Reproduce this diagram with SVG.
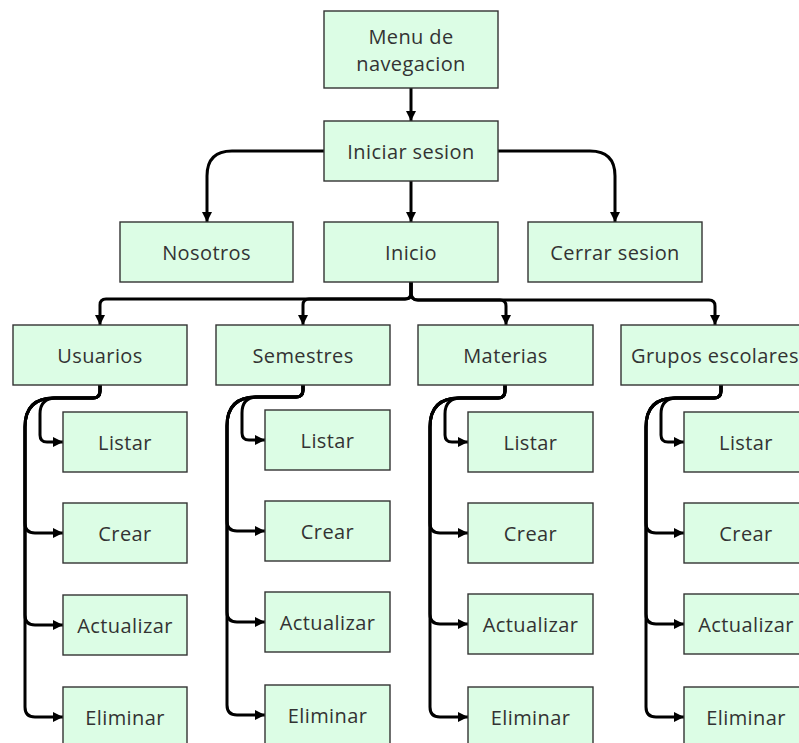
<svg xmlns="http://www.w3.org/2000/svg" width="799" height="743" viewBox="0 0 799 743">
  <style>
    .box { fill: #dcfde5; stroke: #333333; stroke-width: 1.4; }
    .lbl { font-family: "Open Sans", "Noto Sans", sans-serif; font-size: 20px; letter-spacing: 0.4px; fill: #333333; text-anchor: middle; dominant-baseline: central; }
    .edge { fill: none; stroke: #000000; stroke-width: 3; marker-end: url(#arrow); }
  </style>
  <defs>
    <marker id="arrow" viewBox="0 0 10 10" refX="10" refY="5" markerWidth="10" markerHeight="10" markerUnits="userSpaceOnUse" orient="auto">
      <path d="M0,0 L10,5 L0,10 z" fill="#000000"/>
    </marker>
  </defs>
  <rect width="799" height="743" fill="#ffffff"/>

  <!-- connectors -->
  <g id="connectors">
    <!-- top levels -->
    <path class="edge" d="M411,88 V121"/>
    <path class="edge" d="M324,151 H232 Q207,151 207,176 V222"/>
    <path class="edge" d="M411,181 V222"/>
    <path class="edge" d="M498,151 H590 Q615,151 615,176 V222"/>
    <!-- Inicio to sections -->
    <path class="edge" d="M411,282 V293 Q411,299 405,299 H106 Q100,299 100,305 V325"/>
    <path class="edge" d="M411,282 V293 Q411,299 405,299 H309 Q303,299 303,305 V325"/>
    <path class="edge" d="M411,282 V293 Q411,300 418,300 H500 Q506,300 506,306 V325"/>
    <path class="edge" d="M411,282 V293 Q411,300 418,300 H709 Q715,300 715,306 V325"/>

    <!-- Usuarios -->
    <path class="edge" d="M100,385 V391 Q100,398 93,398 H56 Q40,398 40,414 V435 Q40,442 47,442 H63"/>
    <path class="edge" d="M100,385 V391 Q100,398 93,398 H54 Q25,398 25,427 V523 Q25,533 35,533 H63"/>
    <path class="edge" d="M100,385 V391 Q100,398 93,398 H54 Q25,398 25,427 V615 Q25,625 35,625 H63"/>
    <path class="edge" d="M100,385 V391 Q100,398 93,398 H54 Q25,398 25,427 V707 Q25,717 35,717 H63"/>

    <!-- Semestres -->
    <path class="edge" d="M303,385 V390 Q303,397 296,397 H258 Q242,397 242,413 V433 Q242,440 249,440 H265"/>
    <path class="edge" d="M303,385 V390 Q303,397 296,397 H256 Q227,397 227,426 V521 Q227,531 237,531 H265"/>
    <path class="edge" d="M303,385 V390 Q303,397 296,397 H256 Q227,397 227,426 V612 Q227,622 237,622 H265"/>
    <path class="edge" d="M303,385 V390 Q303,397 296,397 H256 Q227,397 227,426 V705 Q227,715 237,715 H265"/>

    <!-- Materias -->
    <path class="edge" d="M505,385 V391 Q505,398 498,398 H461 Q445,398 445,414 V435 Q445,442 452,442 H468"/>
    <path class="edge" d="M505,385 V391 Q505,398 498,398 H459 Q430,398 430,427 V523 Q430,533 440,533 H468"/>
    <path class="edge" d="M505,385 V391 Q505,398 498,398 H459 Q430,398 430,427 V614 Q430,624 440,624 H468"/>
    <path class="edge" d="M505,385 V391 Q505,398 498,398 H459 Q430,398 430,427 V707 Q430,717 440,717 H468"/>

    <!-- Grupos escolares -->
    <path class="edge" d="M721,385 V391 Q721,398 714,398 H677 Q661,398 661,414 V435 Q661,442 668,442 H684"/>
    <path class="edge" d="M721,385 V391 Q721,398 714,398 H675 Q646,398 646,427 V523 Q646,533 656,533 H684"/>
    <path class="edge" d="M721,385 V391 Q721,398 714,398 H675 Q646,398 646,427 V614 Q646,624 656,624 H684"/>
    <path class="edge" d="M721,385 V391 Q721,398 714,398 H675 Q646,398 646,427 V707 Q646,717 656,717 H684"/>
  </g>

  <!-- top level -->
  <g id="menu"><rect class="box" x="324" y="11" width="174" height="77"/>
    <text class="lbl" x="411" y="36">Menu de</text><text class="lbl" x="411" y="63">navegacion</text></g>
  <g id="iniciar-sesion"><rect class="box" x="324" y="121" width="174" height="60"/><text class="lbl" x="411" y="151">Iniciar sesion</text></g>
  <g id="nosotros"><rect class="box" x="120" y="222" width="173" height="60"/><text class="lbl" x="206.5" y="252">Nosotros</text></g>
  <g id="inicio"><rect class="box" x="324" y="222" width="174" height="60"/><text class="lbl" x="411" y="252">Inicio</text></g>
  <g id="cerrar-sesion"><rect class="box" x="528" y="222" width="174" height="60"/><text class="lbl" x="615" y="252">Cerrar sesion</text></g>

  <!-- sections -->
  <g id="usuarios"><rect class="box" x="13" y="325" width="174" height="60"/><text class="lbl" x="100" y="355">Usuarios</text></g>
  <g id="semestres"><rect class="box" x="216" y="325" width="174" height="60"/><text class="lbl" x="303" y="355">Semestres</text></g>
  <g id="materias"><rect class="box" x="418" y="325" width="175" height="60"/><text class="lbl" x="505.5" y="355">Materias</text></g>
  <g id="grupos"><rect class="box" x="621" y="325" width="200" height="60"/><text class="lbl" x="715" y="355">Grupos escolares</text></g>

  <!-- Usuarios actions -->
  <g id="u-listar"><rect class="box" x="63" y="412" width="124" height="60"/><text class="lbl" x="125" y="442">Listar</text></g>
  <g id="u-crear"><rect class="box" x="63" y="503" width="124" height="60"/><text class="lbl" x="125" y="533">Crear</text></g>
  <g id="u-actualizar"><rect class="box" x="63" y="595" width="124" height="60"/><text class="lbl" x="125" y="625">Actualizar</text></g>
  <g id="u-eliminar"><rect class="box" x="63" y="687" width="124" height="60"/><text class="lbl" x="125" y="717">Eliminar</text></g>

  <!-- Semestres actions -->
  <g id="s-listar"><rect class="box" x="265" y="410" width="125" height="60"/><text class="lbl" x="327.5" y="440">Listar</text></g>
  <g id="s-crear"><rect class="box" x="265" y="501" width="125" height="60"/><text class="lbl" x="327.5" y="531">Crear</text></g>
  <g id="s-actualizar"><rect class="box" x="265" y="592" width="125" height="60"/><text class="lbl" x="327.5" y="622">Actualizar</text></g>
  <g id="s-eliminar"><rect class="box" x="265" y="685" width="125" height="60"/><text class="lbl" x="327.5" y="715">Eliminar</text></g>

  <!-- Materias actions -->
  <g id="m-listar"><rect class="box" x="468" y="412" width="125" height="60"/><text class="lbl" x="530.5" y="442">Listar</text></g>
  <g id="m-crear"><rect class="box" x="468" y="503" width="125" height="60"/><text class="lbl" x="530.5" y="533">Crear</text></g>
  <g id="m-actualizar"><rect class="box" x="468" y="594" width="125" height="60"/><text class="lbl" x="530.5" y="624">Actualizar</text></g>
  <g id="m-eliminar"><rect class="box" x="468" y="687" width="125" height="60"/><text class="lbl" x="530.5" y="717">Eliminar</text></g>

  <!-- Grupos escolares actions -->
  <g id="g-listar"><rect class="box" x="684" y="412" width="124" height="60"/><text class="lbl" x="746" y="442">Listar</text></g>
  <g id="g-crear"><rect class="box" x="684" y="503" width="124" height="60"/><text class="lbl" x="746" y="533">Crear</text></g>
  <g id="g-actualizar"><rect class="box" x="684" y="594" width="124" height="60"/><text class="lbl" x="746" y="624">Actualizar</text></g>
  <g id="g-eliminar"><rect class="box" x="684" y="687" width="124" height="60"/><text class="lbl" x="746" y="717">Eliminar</text></g>
</svg>
